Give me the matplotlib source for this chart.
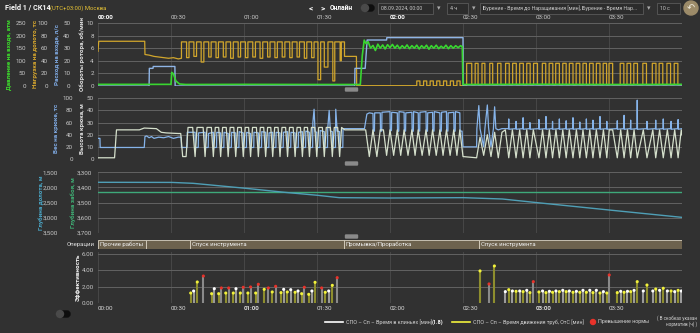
import matplotlib
matplotlib.use('Agg')
import matplotlib.pyplot as plt
from matplotlib.patches import FancyBboxPatch, Circle
from matplotlib.lines import Line2D
from matplotlib.transforms import IdentityTransform
from matplotlib.ticker import FuncFormatter

plt.rcParams['font.family'] = ['Roboto', 'DejaVu Sans']

W, H = 700, 333
BG = '#313131'

# time in minutes from 00:00
time_ticks = [0, 30, 60, 90, 120, 150, 180, 210, 240]
time_labels = ['00:00', '00:30', '01:00', '01:30', '02:00', '02:30', '03:00', '03:30', '']

# ---- panel 1: pressure, weight on bit, flow ----
press_pts = [(0, 6.5), (30.0, 6.5), (30.3, 54), (31.0, 48), (32.0, 20), (33.5, 8), (36, 6),
             (60, 6.5), (90, 6), (107.8, 6), (108.6, 120), (109.4, 182), (110.2, 168),
             (111.0, 176), (112.0, 150), (113.0, 161), (114.0, 141), (115.0, 166), (116.0, 150),
             (117.0, 163), (118.0, 147), (119.0, 164), (120.0, 152), (121.0, 165), (122.0, 150),
             (123.0, 162), (124.0, 148), (125.0, 160), (126.0, 150), (127.0, 163), (128.0, 148),
             (129.0, 160), (130.0, 150), (131.0, 162), (132.0, 147), (133.0, 160), (134.0, 150),
             (135.0, 162), (136.0, 146), (137.0, 160), (138.0, 150), (139.0, 162), (140.0, 148),
             (141.0, 158), (142.0, 150), (143.0, 162), (144.0, 148), (145.0, 160), (146.0, 150),
             (147.0, 160), (148.0, 152), (149.0, 160), (149.7, 156), (150.0, 6), (180, 7),
             (210, 6), (240, 6.5)]

flow_pts = [(0, 0), (21.0, 0), (21.1, 14), (22.6, 14), (22.7, 15.5), (31.6, 15.5), (31.7, 0),
            (105.5, 0), (105.6, 14), (109.8, 14), (110.6, 36.5), (118.6, 36.5), (118.7, 38.4),
            (150.0, 38.4), (150.1, 0), (240, 0)]

wob_start = [(0, 55), (0.3, 71), (19.2, 71), (19.3, 50), (21, 49), (23, 47), (25, 46),
             (27, 45), (29, 44), (31, 45), (33, 43), (34.3, 44)]
wob_on_1 = [34.3, 37.4, 40.5, 43.5, 46.5, 49.5, 52.6, 55.6, 58.6, 61.6, 64.7, 67.7,
            70.7, 73.7, 76.8, 79.8, 82.8, 85.8, 88.8, 91.5, 94.5, 97.3, 100.0]
wob_off_1 = [36.4, 39.4, 42.4, 45.5, 48.5, 51.5, 54.5, 57.6, 60.6, 63.6, 66.6, 69.7,
             72.7, 75.7, 78.8, 81.8, 84.8, 87.8, 90.4, 93.0, 96.5, 99.5, 101.3]
wob_low_1 = [45, 47, 38, 46, 45, 46, 44, 46, 45, 46, 44, 46,
             45, 46, 45, 46, 44, 45, 10, 30, 8, 40, 47]
wob_on_2 = [131.0, 133.8, 136.5, 139.2, 142.0, 144.8, 147.5]
wob_off_2 = [132.3, 135.1, 137.8, 140.5, 143.3, 146.1, 148.8]
wob_on_3 = [151.5, 155.0, 157.8, 161.0, 164.2, 167.5, 170.4, 173.3, 176.2, 179.0, 182.6,
            185.4, 188.1, 191.0, 193.7, 196.5, 199.3, 202.0, 204.8, 207.6, 210.0, 214.6,
            217.4, 220.2, 223.9, 227.8, 230.6, 233.8, 236.8]
wob_off_3 = [153.6, 156.2, 159.0, 162.2, 165.6, 169.0, 171.9, 174.8, 177.6, 180.6, 184.0,
             186.9, 189.6, 192.4, 195.2, 198.0, 200.7, 203.5, 206.3, 209.0, 211.5, 216.1,
             218.9, 221.7, 225.4, 229.3, 232.1, 235.3, 238.3]
wob_high = [70, 8, 36]
wob_base = [47, 0.5, 2]

# ---- panel 2: hook load and block height ----
height_pts = [(0, 1), (6.8, 1), (7.6, 24), (17, 24), (19, 25.5), (24, 25), (26, 22), (28, 21.5),
              (33, 21), (34.0, 21), (34.8, 2), (36.2, 2), (37.0, 26),
              (38.9, 26), (39.9, 2), (40.7, 26), (43.2, 26), (44.0, 2), (44.8, 26),
              (46.6, 26), (47.4, 2), (48.2, 26), (49.6, 26), (50.4, 2), (51.2, 26),
              (52.7, 26), (53.5, 2), (54.3, 26), (55.8, 26), (56.6, 2), (57.4, 26),
              (58.9, 26), (59.7, 2), (60.5, 26), (61.9, 26), (62.7, 2), (63.5, 26),
              (65.1, 26), (65.9, 2), (66.7, 26), (68.1, 26), (68.9, 2), (69.7, 26),
              (71.0, 26), (71.8, 2), (72.6, 26), (74.0, 26), (74.8, 2), (75.6, 26),
              (77.1, 26), (77.9, 2), (78.7, 26), (80.2, 26), (81.0, 2), (81.8, 26),
              (83.2, 26), (84.0, 2), (84.8, 26), (86.1, 26), (86.9, 2), (87.7, 26),
              (89.1, 26), (89.9, 2), (90.7, 26), (92.2, 26), (93.0, 2), (93.8, 26),
              (95.5, 26), (96.3, 2), (97.1, 26), (98.5, 26), (99.3, 2), (100.1, 26),
              (101.4, 24), (110.0, 24), (111.5, 2), (113.0, 24), (114.6, 2), (116.0, 24),
              (117.3, 24), (118.6, 3), (120.0, 24), (121.5, 3), (123.0, 24), (124.4, 3),
              (125.8, 24), (127.4, 3), (129.0, 24), (130.3, 3), (131.6, 24), (133.2, 3),
              (134.8, 24), (136.1, 3), (137.5, 24), (139.0, 3), (140.5, 24), (141.8, 3),
              (143.2, 24), (144.7, 3), (146.2, 24), (147.5, 3), (148.7, 24), (150.0, 2),
              (155.6, 1), (157.0, 18), (158.5, 3), (160.0, 20), (161.5, 2), (163.0, 22),
              (164.5, 1), (166.0, 22), (167.4, 24), (168.8, 1), (170.3, 24), (171.8, 1),
              (173.3, 24), (174.7, 1), (176.2, 24), (177.5, 1), (178.9, 24), (181.2, 1),
              (182.7, 24), (184.1, 1), (185.5, 24), (186.8, 1), (188.2, 24), (189.6, 1),
              (191.0, 24), (192.4, 1), (193.7, 24), (195.2, 1), (196.6, 24), (198.0, 1),
              (199.3, 24), (200.7, 1), (202.1, 24), (203.4, 1), (204.8, 24), (206.3, 1),
              (207.7, 24), (209.1, 1), (210.1, 24), (211.5, 24), (213.4, 1), (214.8, 24),
              (216.2, 1), (217.6, 24), (218.9, 1), (220.3, 24), (221.6, 1), (224.1, 24),
              (225.6, 1), (228.0, 24), (229.2, 1), (230.8, 24), (232.3, 1), (234.0, 24),
              (235.5, 1), (237.0, 24), (238.4, 1), (239.7, 24), (240, 20)]

hookload_pts = [(0, 34), (0.8, 34), (0.9, 19), (19.0, 19), (19.3, 37), (20, 38), (21, 35),
                (22, 37), (23, 34), (25, 36), (27, 35), (29, 37), (31, 34), (33, 36),
                (34.2, 36), (34.3, 19), (36.6, 19), (36.7, 44), (39.9, 44), (40.0, 19),
                (41.2, 19), (41.3, 43), (44.0, 44), (44.1, 19), (45.3, 19), (45.4, 42),
                (47.4, 44), (47.5, 19), (48.7, 19), (48.8, 44), (50.4, 43), (50.5, 19),
                (51.7, 19), (51.8, 44), (53.5, 42), (53.6, 19), (54.8, 19), (54.9, 44),
                (56.6, 43), (56.7, 19), (57.9, 19), (58.0, 45), (59.7, 43), (59.8, 19),
                (61.0, 19), (61.1, 44), (62.7, 42), (62.8, 19), (64.0, 19), (64.1, 44),
                (65.9, 43), (66.0, 19), (67.2, 19), (67.3, 45), (68.9, 44), (69.0, 19),
                (70.2, 19), (70.3, 43), (71.8, 44), (71.9, 19), (73.1, 19), (73.2, 44),
                (74.8, 43), (74.9, 19), (76.1, 19), (76.2, 44), (77.9, 45), (78.0, 19),
                (79.2, 19), (79.3, 44), (81.0, 43), (81.1, 19), (82.3, 19), (82.4, 44),
                (84.0, 45), (84.1, 19), (85.3, 19), (85.4, 46), (86.9, 44), (87.0, 19),
                (88.2, 19), (88.3, 60), (88.8, 82), (89.2, 45), (89.9, 44), (90.0, 19),
                (91.2, 19), (91.3, 47), (93.0, 45), (93.1, 19), (94.3, 19), (94.4, 50),
                (95.0, 80), (95.5, 46), (96.3, 45), (96.4, 19), (97.6, 19), (97.7, 82),
                (98.3, 46), (99.3, 45), (99.4, 19), (100.6, 19), (100.7, 50), (109.5, 50),
                (110.5, 74), (111.5, 76), (113.0, 75), (113.1, 46), (113.6, 46), (113.7, 76),
                (116.0, 76), (116.1, 46), (116.6, 46), (116.7, 77), (120.0, 78), (120.1, 46),
                (120.6, 47), (120.7, 77), (123.0, 76), (123.1, 45), (123.6, 46), (123.7, 78),
                (125.8, 77), (125.9, 46), (126.4, 46), (126.5, 76), (129.0, 77), (129.1, 45),
                (129.6, 46), (129.7, 78), (131.6, 76), (131.7, 46), (132.2, 46), (132.3, 77),
                (134.8, 78), (134.9, 45), (135.4, 46), (135.5, 76), (137.5, 77), (137.6, 46),
                (138.1, 46), (138.2, 78), (140.5, 76), (140.6, 45), (141.1, 46), (141.2, 77),
                (143.2, 78), (143.3, 46), (143.8, 46), (143.9, 76), (146.2, 77), (146.3, 45),
                (146.8, 46), (146.9, 78), (148.7, 76), (148.8, 46), (149.6, 46), (150.0, 20),
                (155.6, 20), (155.7, 50), (156.5, 88), (157.0, 50), (158.5, 20), (159.0, 50),
                (160.0, 89), (160.5, 52), (161.5, 20), (162.5, 50), (163.0, 86), (163.5, 50),
                (164.5, 48), (166.0, 50),
                (168.7, 50), (168.8, 66), (168.9, 49), (171.7, 50), (171.8, 62), (171.9, 49),
                (174.6, 50), (174.7, 68), (174.8, 49), (177.4, 50), (177.5, 60), (177.6, 49),
                (181.1, 50), (181.2, 65), (181.3, 49), (184.0, 50), (184.1, 70), (184.2, 49),
                (186.7, 50), (186.8, 62), (186.9, 49), (189.5, 50), (189.6, 66), (189.7, 49),
                (192.3, 50), (192.4, 63), (192.5, 49), (195.1, 50), (195.2, 68), (195.3, 49),
                (197.9, 50), (198.0, 61), (198.1, 49), (200.6, 50), (200.7, 66), (200.8, 49),
                (203.3, 50), (203.4, 64), (203.5, 49), (206.2, 50), (206.3, 70), (206.4, 49),
                (209.0, 50), (209.1, 62), (209.2, 49), (213.3, 50), (213.4, 63), (213.5, 49),
                (216.1, 50), (216.2, 72), (216.3, 49), (218.8, 50), (218.9, 64), (219.0, 49),
                (221.5, 50), (221.6, 97), (221.7, 49), (225.5, 50), (225.6, 62), (225.7, 49),
                (229.1, 50), (229.2, 64), (229.3, 49), (232.2, 50), (232.3, 66), (232.4, 49),
                (235.4, 50), (235.5, 62), (235.6, 49), (238.3, 50), (238.4, 65), (238.5, 49),
                (240, 50)]

# ---- panel 3: depths ----
bit_depth_pts = [(0, 1831), (30.4, 1835), (39.1, 1865), (60.7, 2030), (76.7, 2163),
                 (90.3, 2262), (99.1, 2340), (119.8, 2351), (135, 2345), (150.2, 2340),
                 (166.2, 2384), (180.6, 2506), (210.1, 2749), (240, 2992)]
hole_depth_pts = [(0, 3433), (240, 3433)]

# ---- operations ----
ops_start = [0, 19.9, 38.0, 101.1, 156.6]
ops_end = [19.9, 38.0, 101.1, 156.6, 240]
ops_name = ['Прочие работы', '', 'Спуск инструмента', 'Промывка/Проработка', 'Спуск инструмента']

# ---- efficiency (y = движение труб, w = в клиньях, r = превышение нормы) ----
eff_t = [38.1, 39.3, 40.8, 43.3, 46.7, 47.8, 49.6, 50.7, 52.5, 53.7, 55.6, 56.7, 58.5, 59.7,
         61.6, 62.7, 64.8, 65.9, 68.3, 70.0, 71.6, 73.0, 75.2, 76.3, 77.8, 79.2, 81.0, 82.2,
         83.7, 84.8, 86.6, 87.9, 89.2, 91.9, 93.4, 94.8, 96.3, 98.3,
         157.0, 160.7, 162.9, 167.4, 168.8, 170.3, 171.8, 173.3, 174.7, 176.2, 177.5, 178.9,
         181.2, 182.7, 184.1, 185.5, 186.8, 188.2, 189.6, 191.0, 192.4, 193.7, 195.2, 196.6,
         198.0, 199.3, 200.7, 202.1, 203.4, 204.8, 206.3, 207.7, 209.1, 210.1, 213.4, 214.8,
         216.2, 217.6, 218.9, 220.3, 221.6, 224.1, 225.6, 228.0, 229.2, 230.8, 232.3, 234.0,
         235.5, 237.0, 238.4, 239.7]
eff_v = [1.22, 1.47, 2.57, 3.30, 1.14, 1.75, 1.14, 1.84, 1.22, 1.84, 1.22, 1.75, 1.22, 1.92,
         1.22, 1.96, 1.22, 2.29, 1.67, 1.84, 1.35, 2.04, 1.27, 1.67, 1.35, 1.63, 1.31, 1.47,
         1.14, 1.92, 1.06, 1.47, 2.53, 1.84, 1.31, 1.47, 2.16, 3.10,
         3.92, 2.33, 4.53, 1.39, 1.63, 1.47, 1.43, 1.47, 1.39, 1.55, 1.27, 2.61,
         1.35, 1.47, 1.27, 1.43, 1.31, 1.47, 1.39, 1.55, 1.39, 1.47, 1.31, 1.43,
         1.31, 1.55, 1.31, 1.55, 1.27, 1.55, 1.22, 1.39, 1.22, 3.43, 1.27, 1.43,
         1.31, 1.43, 1.39, 1.55, 2.61, 1.47, 2.20, 1.47, 1.71, 1.55, 1.80, 1.47,
         1.47, 1.39, 1.55, 1.47]
eff_k = ('ywyr' 'ywyr' 'yr' 'yw' 'yr' 'yr' 'yr' 'yr' 'yr' 'yw' 'yw' 'yw' 'yr' 'yw' 'yr' 'yw' 'yr'
         'yry' 'wywywywyr' 'ywywywywywywywywywywyr' 'ywywywywywywywywyw')


def unzip(pts):
    return [p[0] for p in pts], [p[1] for p in pts]


def add_pulses(pts, on, off, high, low):
    for i in range(len(on)):
        lo = low[i] if isinstance(low, list) else low
        pts += [(on[i], pts[-1][1]), (on[i], high), (off[i], high), (off[i], lo)]
    return pts


wob_pts = list(wob_start)
wob_pts = add_pulses(wob_pts, wob_on_1, wob_off_1, wob_high[0], wob_low_1)
wob_pts += [(106.2, wob_base[0]), (106.3, wob_base[1])]
wob_pts = add_pulses(wob_pts, wob_on_2, wob_off_2, wob_high[1], wob_base[1])
wob_pts = add_pulses(wob_pts, wob_on_3, wob_off_3, wob_high[2], wob_base[2])
wob_pts += [(240, wob_base[2])]

fig = plt.figure(figsize=(W / 100, H / 100), dpi=100)
fig.patch.set_facecolor(BG)
PX = IdentityTransform()


def rect(x0, y0, x1, y1):
    return [x0 / W, 1 - y1 / H, (x1 - x0) / W, (y1 - y0) / H]


def txt(x, y, s, **kw):
    kw.setdefault('va', 'center')
    kw.setdefault('fontsize', 4.5)
    kw.setdefault('color', '#d0d0d0')
    fig.text(x, H - y, s, transform=PX, **kw)


def panel(r):
    ax = fig.add_axes(r)
    ax.set_facecolor(BG)
    for s in ax.spines.values():
        s.set_visible(False)
    ax.set_xlim(0, 240)
    ax.set_xticks(time_ticks)
    ax.tick_params(axis='both', length=0, labelsize=4.5, colors='#c8c8c8', pad=3)
    ax.tick_params(axis='x', labelbottom=False)
    ax.grid(axis='x', color='#474747', lw=0.7)
    ax.grid(axis='y', color='#626262', lw=0.7)
    ax.set_axisbelow(True)
    return ax


def label(ax, text, color, xc):
    ax.set_ylabel(text, color=color, fontsize=4.5, fontweight='bold')
    ax.yaxis.label.set_va('center')
    ax.yaxis.set_label_coords((xc - 98) / 584, 0.5)


def side_axis(ax, offset, ylim, ticks):
    tw = ax.twinx()
    tw.yaxis.tick_left()
    tw.yaxis.set_label_position('left')
    for s in tw.spines.values():
        s.set_visible(False)
    tw.spines['left'].set_position(('outward', offset))
    tw.set_ylim(*ylim)
    tw.set_yticks(ticks)
    tw.tick_params(length=0, labelsize=4.5, colors='#c8c8c8', pad=3)
    return tw


thousands = FuncFormatter(lambda v, p: f'{v:,.0f}')

# panel 1
ax1 = panel(rect(98, 23, 682, 86))
ax1.set_ylim(0, 10)
ax1.set_yticks([0, 2, 4, 6, 8, 10])
label(ax1, 'Обороты ротора, об/мин', '#e0e0e0', 82)
ax1.tick_params(axis='x', labeltop=True, pad=2)
ax1.set_xticklabels(time_labels)
for lab in ax1.get_xticklabels():
    lab.set_ha('left')
    if lab.get_text() in ('00:00', '02:00'):
        lab.set_color('#ffffff')
        lab.set_fontweight('bold')

ax_wob = side_axis(ax1, 33, (0, 100), [0, 20, 40, 60, 80, 100])
label(ax_wob, 'Нагрузка на долото, тс', '#d4a52e', 35)
t, v = unzip(wob_pts)
ax_wob.plot(t, v, color='#d1a62c', lw=0.9)

ax_flow = side_axis(ax1, 17, (0, 50), [0, 10, 20, 30, 40, 50])
label(ax_flow, 'Расход на входе, л/с', '#7ea9e2', 57)
t, v = unzip(flow_pts)
ax_flow.plot(t, v, color='#8fb5e6', lw=1.0)

ax_press = side_axis(ax1, 49, (0, 250), [0, 50, 100, 150, 200, 250])
label(ax_press, 'Давление на входе, атм', '#3ddc2c', 9)
t, v = unzip(press_pts)
ax_press.plot(t, v, color='#39d630', lw=1.2)

# panel 2
ax2 = panel(rect(98, 98.3, 682, 159))
ax2.set_ylim(0, 50)
ax2.set_yticks([0, 10, 20, 30, 40, 50])
label(ax2, 'Высота крюка, м', '#e0e0e0', 82)
ax_hook = side_axis(ax2, 15, (0, 100), [0, 20, 40, 60, 80, 100])
label(ax_hook, 'Вес на крюке, тс', '#7ea9e2', 56)
t, v = unzip(hookload_pts)
ax_hook.plot(t, v, color='#86b4ea', lw=0.9)
# block height drawn on the 0-50 scale, placed in the top twin so it stays above the load
t, v = unzip(height_pts)
ax_top = ax2.twinx()
ax_top.set_ylim(0, 50)
ax_top.axis('off')
ax_top.plot(t, v, color='#d5e0cc', lw=0.9)

# panel 3
ax3 = panel(rect(98, 172.3, 682, 232.7))
ax3.set_ylim(3700, 3300)
ax3.set_yticks([3300, 3400, 3500, 3600, 3700])
ax3.yaxis.set_major_formatter(thousands)
ax3.tick_params(axis='y', pad=4)
label(ax3, 'Глубина забоя, м', '#3fae74', 73)
ax_bit = side_axis(ax3, 26, (3500, 1500), [1500, 2000, 2500, 3000, 3500])
ax_bit.yaxis.set_major_formatter(thousands)
label(ax_bit, 'Глубина долота, м', '#4aa6c6', 41)
t, v = unzip(bit_depth_pts)
ax_bit.plot(t, v, color='#4f9fb6', lw=1.0)
t, v = unzip(hole_depth_pts)
ax3.plot(t, v, color='#3ea97a', lw=1.0)

# operations bar
axo = fig.add_axes(rect(98, 239.5, 682, 249.3))
axo.set_facecolor(BG)
axo.axis('off')
axo.set_xlim(0, 240)
axo.set_ylim(-0.5, 0.5)
widths = [e - s for s, e in zip(ops_start, ops_end)]
axo.barh(0, widths, left=ops_start, height=1, color='#6d624e', edgecolor='#d9d2c2', lw=0.6)
for s, name in zip(ops_start, ops_name):
    axo.text(s + 0.8, 0, name, va='center', ha='left', fontsize=4.3, color='#f0f0f0')
txt(95, 244.5, 'Операции', ha='right', color='#e0e0e0', fontsize=4.3)

# efficiency
axe = panel(rect(98, 251.5, 682, 303))
axe.set_ylim(0, 6.3)
axe.set_yticks([0, 2, 4, 6])
axe.set_yticklabels(['0.00', '2.00', '4.00', '6.00'])
axe.tick_params(axis='x', labelbottom=True, pad=2)
axe.set_xticklabels(time_labels)
for lab in axe.get_xticklabels():
    lab.set_ha('left')
    lab.set_color('#d8d8d8')
    if lab.get_text() in ('01:00', '03:00'):
        lab.set_fontweight('bold')
label(axe, 'Эффективность', '#f0f0f0', 78)
stem_col = {'y': '#8e8e2e', 'w': '#9a9a9a', 'r': '#8a8a8a'}
dot_col = {'y': '#f2f23c', 'w': '#ffffff', 'r': '#e8322a'}
axe.vlines(eff_t, 0, eff_v, colors=[stem_col[k] for k in eff_k], lw=1.5, zorder=2)
axe.scatter(eff_t, eff_v, c=[dot_col[k] for k in eff_k], s=5, zorder=3, linewidths=0)

# resize handles
for hy in (89.5, 163.5, 236.5):
    fig.add_artist(FancyBboxPatch((346, H - hy - 1), 11, 2, boxstyle='round,pad=0.5',
                                  transform=PX, color='#8a8a8a'))

# header
txt(5, 8, 'Field 1 / СК14', fontsize=5.2, fontweight='bold', color='#ffffff')
txt(50, 8, '(UTC+03:00) Москва', color='#e6c235', fontsize=4.2)
txt(311, 8, '<', fontsize=6, fontweight='bold', color='#ffffff', ha='center')
txt(323, 8, '>', fontsize=6, fontweight='bold', color='#ffffff', ha='center')
txt(330, 8, 'Онлайн', fontsize=4.8, fontweight='bold', color='#ffffff')
fig.add_artist(FancyBboxPatch((362, H - 11), 12, 6, boxstyle='round,pad=0,rounding_size=3',
                              transform=PX, color='#0e0e0e'))
fig.add_artist(Circle((365, H - 8), 3.5, transform=PX, color='#4a4a4a'))
for x0, x1, s in ((378, 433, '08.09.2024, 00:00'), (447, 468, '4 ч'),
                  (480, 643, 'Бурение - Время до Наращивания [мин], Бурение - Время Нар...'),
                  (657, 680, '10 с')):
    fig.add_artist(FancyBboxPatch((x0, H - 14), x1 - x0, 11, boxstyle='square,pad=0',
                                  transform=PX, facecolor='#2c2c2c', edgecolor='#5a5a5a', lw=0.6))
    txt(x0 + 3, 8.5, s, color='#c8c8c8', fontsize=3.8)
for x in (439, 474, 649):
    txt(x, 8.5, '▾', color='#aaaaaa', fontsize=5, ha='center', family='DejaVu Sans')
fig.add_artist(Circle((691, H - 8), 7, transform=PX, color='#9c8b69'))
txt(691, 8, '↶', color='#f0ece0', fontsize=7, ha='center', family='DejaVu Sans')

# bottom toggle
fig.add_artist(FancyBboxPatch((57, H - 317), 13, 6, boxstyle='round,pad=0,rounding_size=3',
                              transform=PX, color='#0e0e0e'))
fig.add_artist(Circle((60, H - 314), 3.5, transform=PX, color='#4a4a4a'))

# legend
fig.add_artist(Line2D([325, 343], [H - 322, H - 322], transform=PX, color='#ffffff', lw=1.2))
txt(346, 322, 'СПО – Сп – Время в клиньях [мин]', fontsize=3.9)
txt(432, 322, '(1.8)', fontweight='bold', color='#ffffff', fontsize=3.9)
fig.add_artist(Line2D([452, 470], [H - 322, H - 322], transform=PX, color='#f2f23c', lw=1.2))
txt(473, 322, 'СПО – Сп – Время движения труб, ОтС [мин]', fontsize=3.9)
fig.add_artist(Circle((593, H - 322), 2.5, transform=PX, color='#e8322a'))
txt(598, 322, 'Превышение нормы', fontsize=3.9)
txt(697, 318, '( В скобках указан', ha='right', fontsize=3.3)
txt(697, 324, 'норматив (ч) )', ha='right', fontsize=3.3)

fig.savefig('out.png', dpi=100, facecolor=BG)
